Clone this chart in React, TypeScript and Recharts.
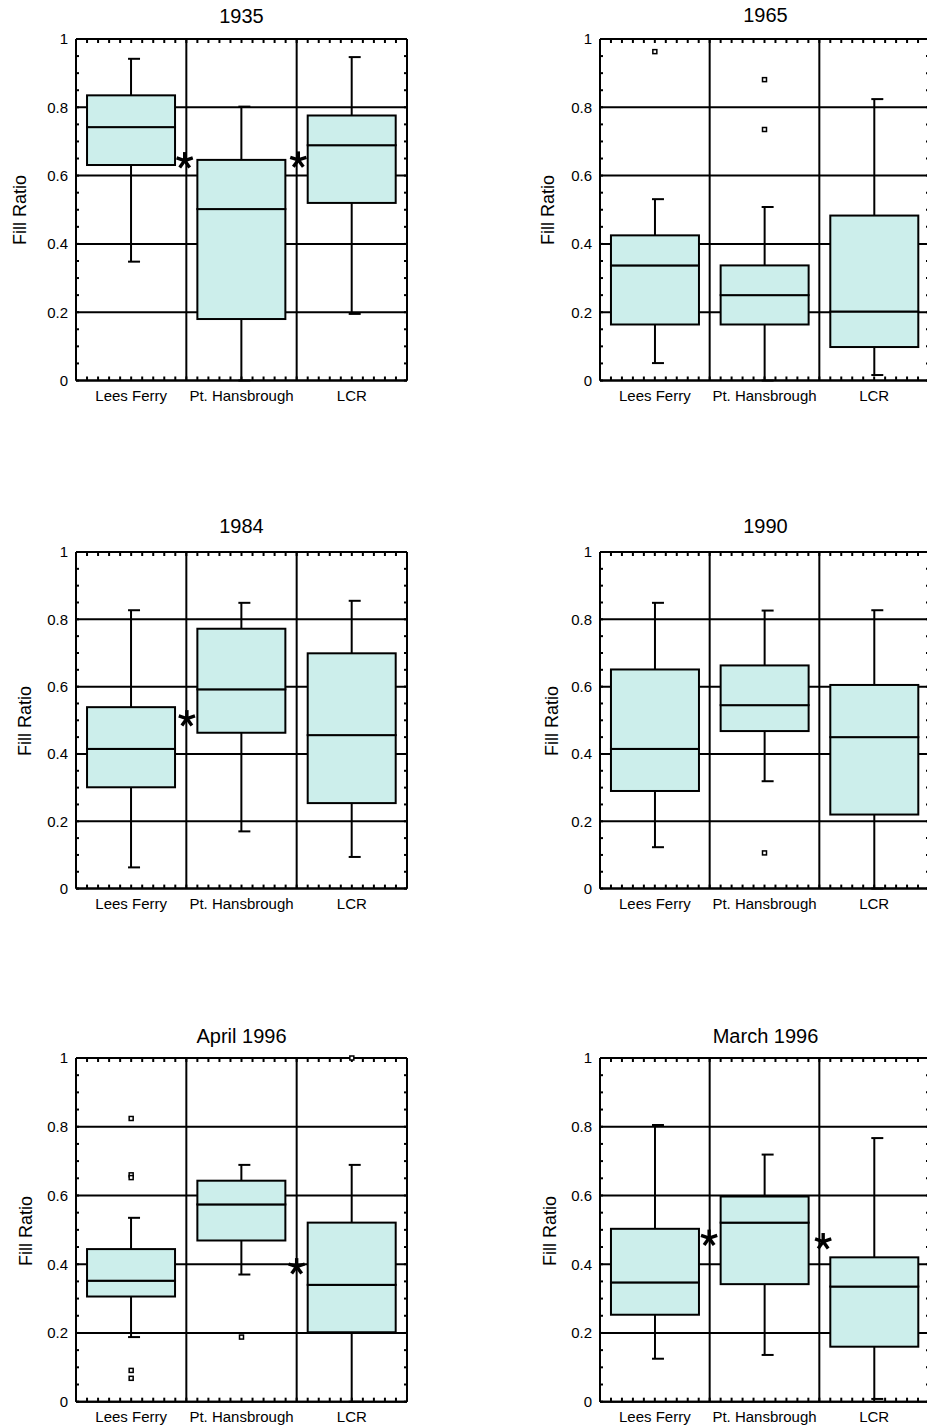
import React from "react";
import {
  Bar,
  CartesianGrid,
  ComposedChart,
  Line,
  ReferenceDot,
  ReferenceLine,
  XAxis,
  YAxis,
} from "recharts";

const SITES = ["Lees Ferry", "Pt. Hansbrough", "LCR"];
const TITLES = ["1935", "1965", "1984", "1990", "April 1996", "March 1996"];
const Y_TICKS = [0, 0.2, 0.4, 0.6, 0.8, 1];

// one row per panel (same order as TITLES), one value per site
const WHISKER_LO = [
  [0.348, 0.0, 0.195],
  [0.051, 0.0, 0.016],
  [0.063, 0.17, 0.094],
  [0.123, 0.319, 0.0],
  [0.188, 0.37, 0.0],
  [0.125, 0.136, 0.008],
];
const Q1 = [
  [0.631, 0.18, 0.52],
  [0.164, 0.164, 0.098],
  [0.301, 0.463, 0.254],
  [0.29, 0.468, 0.22],
  [0.306, 0.469, 0.202],
  [0.253, 0.342, 0.16],
];
const MEDIAN = [
  [0.742, 0.502, 0.689],
  [0.337, 0.25, 0.202],
  [0.415, 0.592, 0.456],
  [0.415, 0.545, 0.45],
  [0.352, 0.574, 0.34],
  [0.347, 0.521, 0.335],
];
const Q3 = [
  [0.835, 0.646, 0.776],
  [0.425, 0.337, 0.483],
  [0.539, 0.772, 0.699],
  [0.651, 0.663, 0.605],
  [0.444, 0.643, 0.521],
  [0.503, 0.597, 0.42],
];
const WHISKER_HI = [
  [0.942, 0.802, 0.947],
  [0.531, 0.508, 0.824],
  [0.827, 0.849, 0.855],
  [0.849, 0.826, 0.827],
  [0.535, 0.689, 0.689],
  [0.805, 0.719, 0.767],
];
const OUTLIERS: number[][][] = [
  [[], [], []],
  [[0.963], [0.881, 0.735], []],
  [[], [], []],
  [[], [0.106], []],
  [[0.824, 0.66, 0.652, 0.091, 0.068], [0.188], [1.0]],
  [[], [], []],
];
// significance stars, x in site units (1 = boundary between first and second site)
const STARS = [
  [{ x: 0.985, y: 0.644 }, { x: 2.015, y: 0.646 }],
  [],
  [{ x: 1.005, y: 0.505 }],
  [],
  [{ x: 2, y: 0.393 }],
  [{ x: 0.995, y: 0.476 }, { x: 2.035, y: 0.466 }],
];

// page layout
const COL_LEFT = [76, 600];
const COL_RIGHT_MARGIN = [12, 14];
const ROW_TOP = [38.5, 551.7, 1058];
const ROW_BOTTOM = [380, 888.3, 1401.7];
const TITLE_Y = [[16, 15], [525.5, 525.5], [1035.8, 1035.8]];
const LABEL_X = [[20, 548], [24.5, 552], [25.5, 549.7]];

const FONT = "'Liberation Sans', Arial, Helvetica, sans-serif";
const BOX_FILL = "#CCEEEB";
const X_MINOR = Array.from({ length: 31 }, (_, i) => i / 10);
const Y_MINOR = Array.from({ length: 21 }, (_, i) => i / 20);

const Hidden = () => <g />;

const LowerWhisker = (p: any) => {
  const cx = p.x + p.width / 2;
  const yEnd = p.y + p.height;
  return (
    <g stroke="#000" strokeWidth={2}>
      <line x1={cx} y1={p.y} x2={cx} y2={yEnd} />
      <line x1={cx - 3} y1={yEnd} x2={cx + 9} y2={yEnd} />
    </g>
  );
};

const UpperWhisker = (p: any) => {
  const cx = p.x + p.width / 2;
  return (
    <g stroke="#000" strokeWidth={2}>
      <line x1={cx} y1={p.y} x2={cx} y2={p.y + p.height} />
      <line x1={cx - 3} y1={p.y} x2={cx + 9} y2={p.y} />
    </g>
  );
};

const BoxHalf = (p: any) => (
  <rect x={p.x} y={p.y} width={p.width} height={p.height} fill={BOX_FILL} stroke="#000" strokeWidth={2} />
);

const OutlierDot = (p: any) => {
  const k = `${p.dataKey}-${p.index}`;
  if (p.value == null || p.cy == null || Number.isNaN(p.cy)) return <g key={k} />;
  return <rect key={k} x={p.cx - 2} y={p.cy - 2} width={4} height={4} fill="#fff" stroke="#000" strokeWidth={1.5} />;
};

const Asterisk = (p: any) => {
  const r = 8.5;
  const arms = [90, 18, 162, -54, -126];
  return (
    <g stroke="#000" strokeWidth={3.4} strokeLinecap="butt">
      {arms.map((a) => {
        const t = (a * Math.PI) / 180;
        return <line key={a} x1={p.cx} y1={p.cy} x2={p.cx + r * Math.cos(t)} y2={p.cy - r * Math.sin(t)} />;
      })}
    </g>
  );
};

const tickStyle = { fill: "#000", fontSize: 15, fontFamily: FONT };
const frame = { stroke: "#000", strokeWidth: 2 };

function Panel({ idx }: { idx: number }) {
  const row = Math.floor(idx / 2);
  const col = idx % 2;
  const plotLeft = COL_LEFT[col];
  const plotTop = ROW_TOP[row];
  const plotH = ROW_BOTTOM[row] - plotTop;
  const W = 419;
  const H = 38 + plotH + 45;

  const data = SITES.map((name, i) => {
    const d: Record<string, any> = {
      name,
      slot: i,
      base: WHISKER_LO[idx][i],
      wLo: Q1[idx][i] - WHISKER_LO[idx][i],
      boxLo: MEDIAN[idx][i] - Q1[idx][i],
      boxHi: Q3[idx][i] - MEDIAN[idx][i],
      wHi: WHISKER_HI[idx][i] - Q3[idx][i],
    };
    for (let k = 0; k < 5; k++) d[`o${k}`] = OUTLIERS[idx][i][k] ?? null;
    return d;
  });

  return (
    <>
      <div
        style={{
          position: "absolute",
          left: plotLeft,
          width: 331,
          top: TITLE_Y[row][col] - 10,
          fontSize: 20,
          lineHeight: "20px",
          textAlign: "center",
          fontFamily: FONT,
          color: "#000",
        }}
      >
        {TITLES[idx]}
      </div>
      <div
        style={{
          position: "absolute",
          left: LABEL_X[row][col],
          top: plotTop + plotH / 2 + 1,
          transform: "translate(-50%, -50%) rotate(-90deg)",
          whiteSpace: "nowrap",
          fontSize: 18,
          lineHeight: "18px",
          fontFamily: FONT,
          color: "#000",
        }}
      >
        Fill Ratio
      </div>
      <div style={{ position: "absolute", left: plotLeft - 76, top: plotTop - 38, width: W, height: H }}>
        <ComposedChart
          width={W}
          height={H}
          data={data}
          margin={{ top: 38, right: COL_RIGHT_MARGIN[col], bottom: 15, left: 16 }}
        >
          <CartesianGrid vertical={false} stroke="#000" strokeWidth={2} />
          <XAxis
            xAxisId="top"
            dataKey="slot"
            orientation="top"
            type="number"
            scale="linear"
            domain={[0, 3]}
            allowDataOverflow
            ticks={X_MINOR}
            interval={0}
            mirror
            height={1}
            tickSize={4}
            tickLine={frame}
            axisLine={frame}
            tickFormatter={() => ""}
          />
          <XAxis
            xAxisId="bot"
            dataKey="slot"
            orientation="bottom"
            type="number"
            scale="linear"
            domain={[0, 3]}
            allowDataOverflow
            ticks={X_MINOR}
            interval={0}
            mirror
            height={1}
            tickSize={4}
            tickLine={frame}
            axisLine={false}
            tickFormatter={() => ""}
          />
          <XAxis
            dataKey="name"
            type="category"
            height={30}
            axisLine={frame}
            tickLine={false}
            tickSize={0}
            tickMargin={10}
            interval={0}
            tick={tickStyle}
          />
          <YAxis
            yAxisId="ml"
            orientation="left"
            type="number"
            domain={[0, 1]}
            allowDataOverflow
            ticks={Y_MINOR}
            interval={0}
            mirror
            width={1}
            tickSize={3}
            tickLine={frame}
            axisLine={false}
            tickFormatter={() => ""}
          />
          <YAxis
            yAxisId="mr"
            orientation="right"
            type="number"
            domain={[0, 1]}
            allowDataOverflow
            ticks={Y_MINOR}
            interval={0}
            mirror
            width={1}
            tickSize={3}
            tickLine={frame}
            axisLine={frame}
            tickFormatter={() => ""}
          />
          <YAxis
            type="number"
            domain={[0, 1]}
            ticks={Y_TICKS}
            interval={0}
            width={60}
            axisLine={frame}
            tickLine={false}
            tickSize={0}
            tickMargin={8}
            tick={tickStyle}
            tickFormatter={(v: number) => String(v)}
          />
          <ReferenceLine x={SITES[1]} position="start" stroke="#000" strokeWidth={2} />
          <ReferenceLine x={SITES[2]} position="start" stroke="#000" strokeWidth={2} />
          <Bar dataKey="base" stackId="b" shape={Hidden} isAnimationActive={false} />
          <Bar dataKey="wLo" stackId="b" shape={LowerWhisker} isAnimationActive={false} />
          <Bar dataKey="boxLo" stackId="b" shape={BoxHalf} isAnimationActive={false} />
          <Bar dataKey="boxHi" stackId="b" shape={BoxHalf} isAnimationActive={false} />
          <Bar dataKey="wHi" stackId="b" shape={UpperWhisker} isAnimationActive={false} />
          {[0, 1, 2, 3, 4].map((k) => (
            <Line
              key={k}
              dataKey={`o${k}`}
              stroke="none"
              dot={OutlierDot}
              activeDot={false}
              isAnimationActive={false}
            />
          ))}
          {STARS[idx].map((s, i) => (
            <ReferenceDot key={i} xAxisId="top" x={s.x} y={s.y} r={0} shape={Asterisk} />
          ))}
        </ComposedChart>
      </div>
    </>
  );
}

export default function App() {
  return (
    <div
      style={{
        position: "absolute",
        left: 0,
        top: 0,
        width: 927,
        height: 1427,
        overflow: "hidden",
        background: "#fff",
      }}
    >
      {TITLES.map((_, i) => (
        <Panel key={i} idx={i} />
      ))}
    </div>
  );
}
